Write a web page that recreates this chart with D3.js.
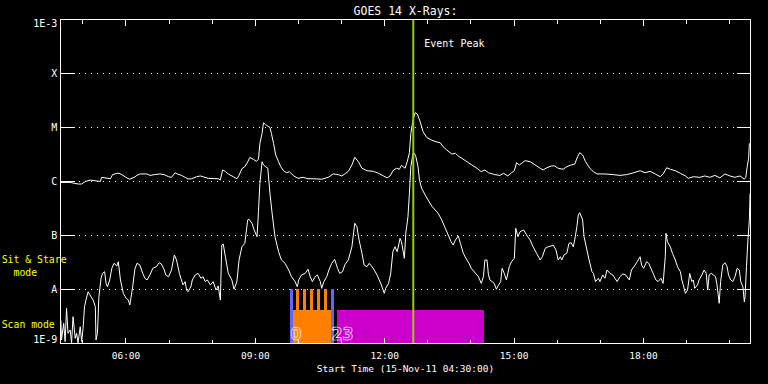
<!DOCTYPE html>
<html><head><meta charset="utf-8">
<script src="https://cdn.jsdelivr.net/npm/d3@7"></script>
<style>
body{margin:0;background:#000;}
svg{display:block;}
text{font-family:"DejaVu Sans Mono",monospace;}
</style>
</head><body>
<svg id="c" width="768" height="384"></svg>
<script>
// ---- data (time in minutes after 04:30 UT, flux in W/m^2) ----
const longTime=[0,13,24,29,34,41,55,57,69,72,78,81,85,92,96,102,106,110,120,124,130,138,144,150,154,159,162,168,173,177,182,189,194,205,219,222,225,229,233,240,245,248,252,256,260,263,268,272,275,277,280,282,285,288,291,293,296,299,303,306,310,314,318,324,330,337,344,351,363,372,379,386,391,395,400,405,409,414,419,426,435,442,449,454,458,463,467,471,474,479,482,485,487,490,493,496,500,504,509,516,523,528,532,537,544,549,553,558,565,572,579,585,590,595,604,611,616,622,627,631,634,638,642,646,653,660,667,671,676,683,687,692,699,704,710,715,719,722,726,730,736,741,746,757,769,778,787,797,806,813,820,827,834,838,843,848,855,862,869,873,880,889,896,903,910,917,924,931,938,945,951,953,955,957,958];
const longFlux=[9.4e-7,9.4e-7,8.8e-7,8.8e-7,9.8e-7,1.04e-6,9.8e-7,1.17e-6,1.10e-6,1.31e-6,1.39e-6,1.39e-6,1.31e-6,1.14e-6,1.08e-6,1.17e-6,1.27e-6,1.35e-6,1.35e-6,1.27e-6,1.31e-6,1.35e-6,1.31e-6,1.20e-6,1.17e-6,1.42e-6,1.35e-6,1.27e-6,1.17e-6,1.09e-6,1.10e-6,1.20e-6,1.24e-6,1.12e-6,1.10e-6,1.04e-6,1.60e-6,1.51e-6,1.35e-6,1.20e-6,1.10e-6,1.27e-6,1.69e-6,1.84e-6,2.25e-6,2.74e-6,2.52e-6,2.32e-6,2.52e-6,4.98e-6,7.6e-6,1.20e-5,1.10e-5,1.04e-5,9.8e-6,7.6e-6,4.98e-6,3.03e-6,2.28e-6,1.84e-6,1.55e-6,1.42e-6,1.49e-6,1.24e-6,1.12e-6,1.17e-6,1.10e-6,1.10e-6,1.08e-6,1.17e-6,1.35e-6,1.31e-6,1.24e-6,1.35e-6,1.51e-6,1.98e-6,2.74e-6,2.28e-6,1.72e-6,1.55e-6,1.51e-6,1.39e-6,1.24e-6,1.14e-6,1.24e-6,1.60e-6,1.72e-6,1.65e-6,1.95e-6,1.72e-6,2.28e-6,3.34e-6,7.6e-6,1.35e-5,1.84e-5,1.74e-5,1.25e-5,8.2e-6,6.4e-6,5.7e-6,5.3e-6,5.1e-6,4.3e-6,3.75e-6,3.16e-6,3.26e-6,2.90e-6,2.63e-6,2.28e-6,1.98e-6,1.72e-6,1.49e-6,1.60e-6,1.42e-6,1.31e-6,1.27e-6,1.39e-6,1.24e-6,1.42e-6,1.55e-6,2.18e-6,1.98e-6,2.18e-6,2.38e-6,2.28e-6,1.98e-6,1.72e-6,1.60e-6,1.76e-6,1.90e-6,1.90e-6,1.72e-6,1.65e-6,1.84e-6,1.98e-6,2.06e-6,2.81e-6,3.34e-6,3.03e-6,2.28e-6,1.72e-6,1.49e-6,1.35e-6,1.35e-6,1.31e-6,1.27e-6,1.31e-6,1.42e-6,1.55e-6,1.42e-6,1.51e-6,1.35e-6,1.20e-6,1.35e-6,1.76e-6,1.65e-6,1.55e-6,1.39e-6,1.24e-6,1.12e-6,1.20e-6,1.17e-6,1.24e-6,1.17e-6,1.27e-6,1.14e-6,1.35e-6,1.24e-6,1.17e-6,1.24e-6,1.08e-6,1.17e-6,1.84e-6,2.63e-6,4.98e-6];
const shortTime=[0,1,4,6,8,10,13,15,17,20,22,24,27,29,31,33,35,38,42,45,48,49,51,53,56,58,61,63,65,68,71,74,78,80,83,87,91,94,96,100,103,106,110,114,117,120,124,128,133,137,140,144,146,150,154,158,161,165,167,170,173,175,177,181,183,187,191,195,198,201,204,208,212,216,219,222,224,226,229,233,238,241,245,248,252,256,260,262,266,269,273,275,277,280,282,285,288,291,294,298,303,307,312,317,321,326,329,331,335,340,344,347,350,354,357,361,363,366,370,373,377,381,385,388,392,395,400,405,409,412,415,419,422,426,429,433,436,440,443,446,450,452,456,459,462,465,468,472,474,478,480,483,485,487,490,492,494,497,499,502,507,511,516,521,525,530,535,539,543,546,549,553,556,560,565,568,571,577,581,585,588,590,593,595,597,600,603,606,609,612,614,617,620,624,627,631,633,636,639,644,648,653,657,662,667,670,674,678,682,685,689,692,695,697,700,704,707,710,713,715,718,720,722,726,728,732,735,739,741,744,748,750,754,757,760,764,768,771,774,778,782,786,791,794,799,802,806,808,811,815,818,822,825,828,831,835,838,841,842,844,848,851,855,858,862,864,866,869,872,875,878,880,882,886,888,892,895,898,900,902,905,908,911,913,916,918,921,924,927,929,932,935,938,941,944,946,949,951,952,954,956,958,959];
const shortFlux=[2.67e-9,1.14e-9,2.32e-9,1.06e-9,4.38e-9,1.51e-9,1.74e-9,1.01e-9,3.07e-9,1.22e-9,1.51e-9,1.01e-9,2.00e-9,1.06e-9,1.87e-9,4.70e-9,6.25e-9,8.9e-9,7.2e-9,6.25e-9,4.70e-9,1.14e-9,1.51e-9,7.2e-9,1.58e-8,1.95e-8,2.09e-8,1.27e-8,1.10e-8,1.47e-8,2.42e-8,2.99e-8,2.67e-8,3.20e-8,1.47e-8,8.3e-9,6.7e-9,6.25e-9,5.05e-9,1.10e-8,2.32e-8,2.99e-8,2.78e-8,1.95e-8,1.58e-8,1.47e-8,1.82e-8,2.42e-8,2.59e-8,3.07e-8,2.90e-8,2.25e-8,1.82e-8,1.69e-8,2.25e-8,4.26e-8,3.44e-8,1.95e-8,1.58e-8,1.19e-8,1.37e-8,9.57e-9,8.9e-9,1.10e-8,1.47e-8,1.82e-8,1.95e-8,1.58e-8,1.69e-8,1.37e-8,1.47e-8,1.19e-8,1.37e-8,9.57e-9,1.14e-8,6.25e-9,6.52e-8,6.81e-8,3.96e-8,1.95e-8,1.47e-8,9.9e-9,1.37e-8,3.44e-8,6.06e-8,7.0e-8,1.90e-7,1.95e-7,1.65e-7,1.24e-7,9.28e-8,2.70e-7,9.05e-7,2.28e-6,1.98e-6,1.84e-6,1.72e-6,5.9e-7,2.52e-7,9.28e-8,4.9e-8,3.44e-8,2.99e-8,2.25e-8,1.69e-8,1.37e-8,1.10e-8,1.47e-8,1.82e-8,1.95e-8,2.32e-8,1.69e-8,1.37e-8,1.69e-8,1.82e-8,1.37e-8,1.03e-8,1.37e-8,1.69e-8,2.25e-8,2.99e-8,3.54e-8,2.42e-8,1.95e-8,2.09e-8,2.78e-8,3.44e-8,6.06e-8,1.65e-7,1.42e-7,8.07e-8,4.58e-8,2.78e-8,2.59e-8,2.99e-8,2.59e-8,2.25e-8,1.82e-8,1.47e-8,1.19e-8,8.3e-9,1.03e-8,1.27e-8,1.95e-8,4.9e-8,6.06e-8,4.9e-8,8.66e-8,7.5e-8,3.70e-8,1.08e-7,2.18e-7,5.9e-7,1.84e-6,3.26e-6,3.26e-6,2.81e-6,1.84e-6,1.04e-6,7.3e-7,5.50e-7,4.44e-7,3.44e-7,2.90e-7,2.52e-7,1.90e-7,1.33e-7,1.00e-7,7.5e-8,6.52e-8,8.07e-8,9.57e-8,7.0e-8,4.58e-8,3.44e-8,2.99e-8,2.42e-8,1.95e-8,1.69e-8,1.27e-8,1.69e-8,3.44e-8,3.44e-8,1.82e-8,1.47e-8,1.37e-8,1.27e-8,9.9e-9,1.19e-8,1.37e-8,2.42e-8,1.95e-8,1.47e-8,2.59e-8,3.20e-8,3.70e-8,1.33e-7,9.28e-8,1.15e-7,1.24e-7,1.00e-7,8.07e-8,6.06e-8,4.58e-8,3.44e-8,3.96e-8,5.67e-8,6.06e-8,6.25e-8,6.52e-8,5.27e-8,3.44e-8,3.96e-8,3.44e-8,4.26e-8,4.58e-8,7.0e-8,7.2e-8,6.06e-8,8.07e-8,1.42e-7,2.35e-7,2.59e-7,1.90e-7,9.28e-8,5.27e-8,3.44e-8,2.09e-8,1.95e-8,1.37e-8,1.58e-8,1.37e-8,1.82e-8,1.58e-8,2.25e-8,1.95e-8,1.82e-8,1.58e-8,1.37e-8,1.69e-8,1.90e-8,1.82e-8,1.47e-8,2.25e-8,2.78e-8,3.20e-8,3.96e-8,2.78e-8,2.42e-8,3.20e-8,2.99e-8,2.25e-8,1.82e-8,1.47e-8,1.37e-8,1.58e-8,1.27e-8,3.96e-8,1.08e-7,7.5e-8,6.06e-8,4.58e-8,3.44e-8,2.59e-8,2.09e-8,1.47e-8,1.19e-8,8.3e-9,9.57e-9,1.95e-8,1.37e-8,1.47e-8,1.03e-8,1.19e-8,1.47e-8,1.82e-8,2.25e-8,1.95e-8,9.57e-9,1.82e-8,1.95e-8,1.82e-8,1.69e-8,1.19e-8,5.43e-9,1.37e-8,2.78e-8,3.07e-8,2.59e-8,1.82e-8,1.47e-8,1.37e-8,1.69e-8,2.42e-8,2.25e-8,1.37e-8,1.10e-8,5.8e-9,7.2e-9,2.59e-8,8.07e-8,1.90e-7,5.9e-7];

const yTickValues=[1e-9,1e-8,1e-7,1e-6,1e-5,1e-4,1e-3];
const yTickLabels=["1E-9","A","B","C","M","X","1E-3"];
const xLabelTimes=["06:00:00","09:00:00","12:00:00","15:00:00","18:00:00"];
const startTime="2011-11-15T04:30:00Z", endTime="2011-11-15T20:30:00Z";
const titleText="GOES 14 X-Rays:";
const obsStart=["09:52:36","10:54:18"], obsEnd=["10:45:54","14:18:24"], obsKind=["raster","stare"];
const stepStart=["09:57:54","10:07:24","10:17:00","10:26:30","10:36:06"];
const stepEnd=["10:02:06","10:11:36","10:21:12","10:30:36","10:40:12"];
const markStart=["09:48:54","10:45:54"], markEnd=["09:52:36","10:50:06"], markLabel=["0","23"];
const peakTime="12:40:24", peakLabel="Event Peak";
const modeLabels=["Sit & Stare","  mode","Scan mode"];

// ---- drawing ----
const svg=d3.select("#c");
const start=new Date(startTime), end=new Date(endTime);
const clock=s=>new Date("2011-11-15T"+s+"Z");
const x=d3.scaleUtc().domain([start,end]).range([60.8,750.8]);
const y=d3.scaleLog().domain([1e-9,1e-3]).range([343,19]);
const L=60.5,R=750.5,T=19.5,B=343.5;

svg.append("rect").attr("width",768).attr("height",384).attr("fill","#000");

// dotted grid
svg.append("g").selectAll("line").data(yTickValues.slice(1,-1)).join("line")
  .attr("x1",61).attr("x2",750).attr("y1",d=>y(d)+0.5).attr("y2",d=>y(d)+0.5)
  .attr("stroke","#fff").attr("stroke-dasharray","1,5").attr("shape-rendering","crispEdges");

// curves
const line=d3.line().x(d=>x(d[0])).y(d=>y(d[1]));
const toData=(ts,fs)=>ts.map((m,i)=>[new Date(start.getTime()+m*60000),fs[i]]);
[toData(longTime,longFlux),toData(shortTime,shortFlux)].forEach(dat=>{
  svg.append("path").attr("d",line(dat)).attr("fill","none")
    .attr("stroke","#fff").attr("stroke-width",1).attr("stroke-linejoin","round");
});

// observation bars
const kindColor=d3.scaleOrdinal().domain(["raster","stare"]).range(["#ff8000","#cc00cc"]);
const rowTop=Math.round(y(1e-8)), rowMid=310, rowBot=Math.round(y(1e-9));
const gb=svg.append("g").attr("shape-rendering","crispEdges");
gb.selectAll("rect.obs").data(obsStart.map((s,i)=>({s:clock(s),e:clock(obsEnd[i]),k:obsKind[i]}))).join("rect")
  .attr("class","obs").attr("x",d=>x(d.s)).attr("width",d=>x(d.e)-x(d.s))
  .attr("y",rowMid).attr("height",rowBot-rowMid).attr("fill",d=>kindColor(d.k));
gb.selectAll("rect.step").data(stepStart.map((s,i)=>({s:clock(s),e:clock(stepEnd[i])}))).join("rect")
  .attr("class","step").attr("x",d=>x(d.s)).attr("width",d=>x(d.e)-x(d.s))
  .attr("y",rowTop).attr("height",rowMid-rowTop).attr("fill",kindColor("raster"));
gb.selectAll("rect.mark").data(markStart.map((s,i)=>({s:clock(s),e:clock(markEnd[i])}))).join("rect")
  .attr("class","mark").attr("x",d=>x(d.s)).attr("width",d=>x(d.e)-x(d.s))
  .attr("y",rowTop).attr("height",rowBot-rowTop).attr("fill","#6464ff");
svg.append("g").selectAll("text").data(markStart.map((s,i)=>({s:clock(s),l:markLabel[i]}))).join("text")
  .attr("x",d=>x(d.s)+0.5).attr("y",340)
  .style("font-family","'Liberation Sans Narrow','DejaVu Sans Condensed',sans-serif")
  .attr("font-size",17.5).attr("font-weight","bold")
  .attr("fill","none").attr("stroke","#fff").attr("stroke-width",0.7).text(d=>d.l);

// event peak line
const px=x(clock(peakTime));
svg.append("line").attr("x1",px).attr("x2",px).attr("y1",T).attr("y2",B)
  .attr("stroke","#99cc00").attr("stroke-width",2);
svg.append("text").attr("x",px+11).attr("y",46.5).attr("font-size",10).attr("fill","#fff").text(peakLabel);

// axes
const majors=xLabelTimes.map(clock);
const minors=d3.utcHour.range(new Date(start.getTime()+1),end).filter(h=>h.getUTCHours()%3!==0);
const styleAxis=g=>{g.select(".domain").remove();g.attr("color","#fff").attr("shape-rendering","crispEdges");};
svg.append("g").attr("transform",`translate(0,${B})`)
  .call(d3.axisBottom(x).tickValues(minors).tickSize(-4).tickFormat("")).call(styleAxis);
const gx=svg.append("g").attr("transform",`translate(0,${B})`)
  .call(d3.axisBottom(x).tickValues(majors).tickSize(-6).tickPadding(8.8).tickFormat(d3.utcFormat("%H:%M"))).call(styleAxis);
gx.attr("font-family","DejaVu Sans Mono").attr("font-size",9.5);
svg.append("g").attr("transform",`translate(0,${T})`)
  .call(d3.axisTop(x).tickValues(minors).tickSize(-4).tickFormat("")).call(styleAxis);
svg.append("g").attr("transform",`translate(0,${T})`)
  .call(d3.axisTop(x).tickValues(majors).tickSize(-6).tickFormat("")).call(styleAxis);

const gy=svg.append("g").attr("transform",`translate(${L},0)`)
  .call(d3.axisLeft(y).tickValues(yTickValues).tickSize(-14).tickPadding(3.2).tickFormat((d,i)=>yTickLabels[i])).call(styleAxis);
gy.attr("font-family","DejaVu Sans Mono").attr("font-size",10);
gy.selectAll("text").attr("dy",(d,i)=>i===0?"-0.05em":(i===yTickValues.length-1?"0.72em":"0.38em"));
svg.append("g").attr("transform",`translate(${R},0)`)
  .call(d3.axisRight(y).tickValues(yTickValues.slice(1,-1)).tickSize(-14).tickFormat("")).call(styleAxis);

// frame
svg.append("rect").attr("x",L).attr("y",T).attr("width",R-L).attr("height",B-T)
  .attr("fill","none").attr("stroke","#fff").attr("shape-rendering","crispEdges");

// texts
svg.append("text").attr("x",405.5).attr("y",15).attr("text-anchor","middle").attr("font-size",11.5)
  .attr("fill","#fff").text(titleText);
svg.append("text").attr("x",405.5).attr("y",372).attr("text-anchor","middle").attr("font-size",9.5)
  .attr("fill","#fff").text("Start Time ("+d3.utcFormat("%d-%b-%y %H:%M:%S")(start)+")");
svg.append("g").selectAll("text").data(modeLabels).join("text")
  .attr("x",1.7).attr("y",(d,i)=>[263,275.5,328.3][i]).attr("font-size",9.8)
  .attr("fill","#ffff00").style("white-space","pre").text(d=>d);
</script>
</body></html>
